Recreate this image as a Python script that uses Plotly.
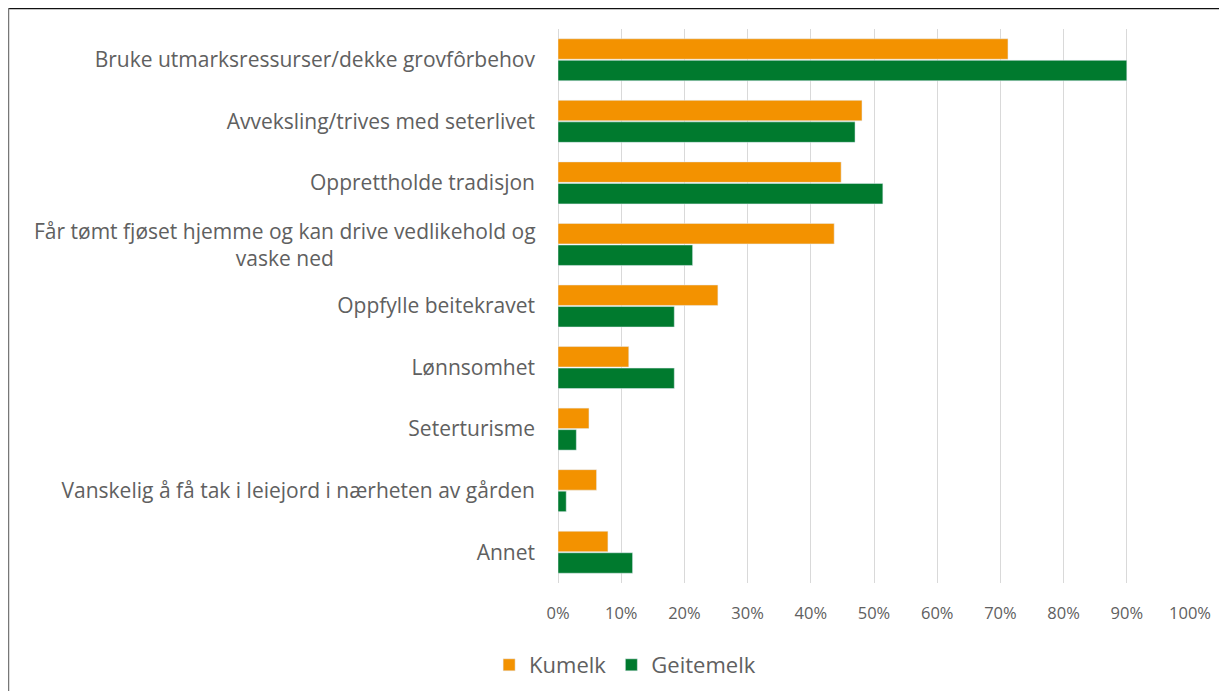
import plotly.graph_objects as go

categories = [
    "Bruke utmarksressurser/dekke grovfôrbehov",
    "Avveksling/trives med seterlivet",
    "Opprettholde tradisjon",
    "Får tømt fjøset hjemme og kan drive vedlikehold og vaske ned",
    "Oppfylle beitekravet",
    "Lønnsomhet",
    "Seterturisme",
    "Vanskelig å få tak i leiejord i nærheten av gården",
    "Annet",
]
# label shown for each category (the long one is wrapped and centred by hand)
wrapped_labels = {
    "Får tømt fjøset hjemme og kan drive vedlikehold og vaske ned":
        "Får tømt fjøset hjemme og kan drive vedlikehold og<br>vaske ned",
}
kumelk = [71.2, 48.1, 44.8, 43.7, 25.3, 11.2, 4.9, 6.1, 7.9]
geitemelk = [90.0, 47.0, 51.4, 21.3, 18.4, 18.4, 2.9, 1.3, 11.8]
tick_vals = [0, 10, 20, 30, 40, 50, 60, 70, 80, 90, 100]
tick_text = [f"{v}%" for v in tick_vals]

# the page adds an 8px body margin, so the figure is 8px smaller than the window
W, H = 1219, 683
L, R, T, B = 550, 37, 21, 108
pw, ph = W - L - R, H - T - B
LABEL_GAP = 22

fig = go.Figure()
fig.add_trace(go.Bar(y=categories, x=kumelk, name="Kumelk", orientation="h",
                     marker_color="#F39200"))
fig.add_trace(go.Bar(y=categories, x=geitemelk, name="Geitemelk", orientation="h",
                     marker_color="#007A2E"))

font_family = "Open Sans, Noto Sans, sans-serif"
text_color = "#606060"
ytick_text = ["" if c in wrapped_labels else c for c in categories]

fig.update_layout(
    width=W, height=H,
    margin=dict(l=L, r=R, t=T, b=B, autoexpand=False),
    paper_bgcolor="white", plot_bgcolor="white",
    barmode="group", bargap=0.3, bargroupgap=0.05,
    font=dict(family=font_family, size=21, color=text_color),
    showlegend=True,
    legend=dict(orientation="h", x=-0.109, xanchor="left",
                y=(H - 657 - B) / ph, yanchor="middle",
                font=dict(size=22, color=text_color), traceorder="normal",
                itemwidth=30, tracegroupgap=0),
    xaxis=dict(range=[0, 100], tickvals=tick_vals, ticktext=tick_text,
               showgrid=True, gridcolor="#D9D9D9", gridwidth=1,
               zeroline=True, zerolinecolor="#D9D9D9", zerolinewidth=1,
               showline=False, ticks="", fixedrange=True, ticklabelstandoff=18,
               automargin=False,
               tickfont=dict(size=16.5, color=text_color)),
    yaxis=dict(autorange="reversed", showgrid=False, showline=False,
               ticks="", ticklabelstandoff=LABEL_GAP, automargin=False,
               tickmode="array", tickvals=categories, ticktext=ytick_text,
               tickfont=dict(size=21, color=text_color)),
)

# wrapped, centred label for the long category
for cat, txt in wrapped_labels.items():
    fig.add_annotation(xref="paper", yref="y", x=-(LABEL_GAP - 2) / pw, y=cat,
                       xanchor="right", yanchor="middle", align="center",
                       text=txt, showarrow=False,
                       font=dict(size=21, color=text_color, family=font_family))

# frame border around the chart (top and left edges visible)
def px_to_paper_x(px):
    return (px - L) / pw

def px_to_paper_y(py):
    return (H - B - py) / ph

fig.add_shape(type="line", xref="paper", yref="paper",
              x0=px_to_paper_x(0), x1=px_to_paper_x(W + 5),
              y0=px_to_paper_y(0.5), y1=px_to_paper_y(0.5),
              line=dict(color="#111111", width=1.5))
fig.add_shape(type="line", xref="paper", yref="paper",
              x0=px_to_paper_x(0.5), x1=px_to_paper_x(0.5),
              y0=px_to_paper_y(0), y1=px_to_paper_y(H + 5),
              line=dict(color="#777777", width=1.5))

fig.write_html("out.html")
